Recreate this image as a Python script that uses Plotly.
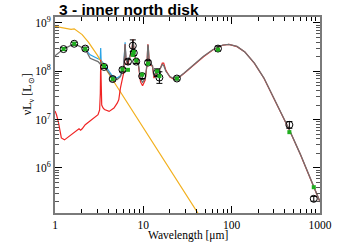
import numpy as np
import plotly.graph_objects as go

# ---- model curves (wavelength in micron, log10 of nuLnu in Lsun) ----
gray_wl = [1.0, 1.25, 1.65, 2.2, 2.5, 3.07, 3.25, 3.3, 3.35, 3.6,
           3.95, 4.5, 5.06, 5.5, 5.98, 6.1, 6.22, 6.35, 6.65, 7.0,
           7.4, 7.65, 7.9, 8.3, 8.6, 8.8, 9.3, 9.8, 10.5, 11.0,
           11.25, 11.35, 11.6, 12.1, 12.7, 13.2, 14.3, 15.5, 16.4, 17.0,
           18, 20, 22.6, 24.5, 29, 37, 48, 61, 79, 93,
           115, 141, 181, 232, 286, 350, 450, 600, 850, 1000]
gray_log10L = [8.32, 8.46, 8.57, 8.46, 8.27, 8.20, 8.15, 8.20, 8.13, 8.10,
               8.00, 7.85, 7.83, 7.89, 8.07, 8.25, 8.56, 8.25, 8.18, 8.30,
               8.45, 8.64, 8.40, 8.20, 8.28, 8.15, 7.84, 7.77, 7.85, 8.15,
               8.55, 8.52, 8.25, 8.15, 8.12, 7.90, 8.02, 8.05, 8.14, 8.12,
               8.00, 7.89, 7.84, 7.86, 7.965, 8.137, 8.31, 8.447, 8.544, 8.558,
               8.515, 8.40, 8.17, 7.86, 7.53, 7.20, 6.79, 6.28, 5.62, 5.30]

red_wl = [1.0, 1.04, 1.09, 1.18, 1.28, 1.45, 1.72, 1.87, 1.95, 2.03,
          2.2, 2.6, 3.07, 3.2, 3.26, 3.29, 3.32, 3.38, 3.5, 3.63,
          4.1, 4.65, 5.06, 5.27, 5.5, 5.74, 5.98, 6.1, 6.22, 6.35,
          6.65, 7.0, 7.4, 7.65, 7.9, 8.3, 8.6, 8.8, 9.3, 9.8,
          10.5, 11.0, 11.25, 11.35, 11.6, 12.1, 12.7, 13.2, 14.3, 15.5,
          16.4, 17.0, 18, 20, 22.6, 24.5, 29, 37, 48, 61,
          79, 93, 115, 141, 181, 232, 286, 350, 450, 600,
          850, 1000]
red_log10L = [7.18, 7.10, 6.96, 6.62, 6.58, 6.65, 6.76, 6.81, 6.78, 6.81,
              6.895, 7.00, 7.10, 7.20, 7.55, 8.24, 7.60, 7.30, 7.24, 7.21,
              7.17, 7.24, 7.34, 7.41, 7.65, 7.83, 7.96, 8.22, 8.56, 8.24,
              8.14, 8.28, 8.44, 8.66, 8.38, 8.17, 8.27, 8.12, 7.78, 7.70,
              7.82, 8.13, 8.56, 8.52, 8.24, 8.13, 8.10, 7.86, 8.00, 8.05,
              8.17, 8.17, 8.02, 7.88, 7.83, 7.85, 7.96, 8.13, 8.30, 8.44,
              8.54, 8.555, 8.51, 8.40, 8.165, 7.855, 7.525, 7.195, 6.785, 6.275,
              5.615, 5.295]

blue_wl = [2.2, 2.5, 3.07, 3.25, 3.29, 3.33, 3.6,
           3.95, 4.5, 5.06, 5.5, 5.98, 6.1, 6.22, 6.35, 6.65, 7.0]
blue_log10L = [8.46, 8.34, 8.26, 8.24, 8.48, 8.22, 8.15,
               8.05, 7.89, 7.86, 7.91, 8.08, 8.27, 8.60, 8.26, 8.18, 8.30]

orange_wl = [1.0, 1.28, 1.52, 1.65, 2.03, 2.4, 3.0, 3.6, 22.6, 50]
orange_log10L = [8.93, 8.90, 8.87, 8.88, 8.76, 8.60, 8.34, 8.10, 5.82, 4.83]

# ---- photometry ----
obs_wl = [1.25, 1.65, 2.2, 3.6, 4.5, 5.8, 6.7, 7.6, 7.8, 8.3, 9.7, 11.3, 14.3, 15.2, 24, 70, 450, 850]
obs_log10L = [8.46, 8.57, 8.47, 8.09, 7.84, 8.03, 8.20, 8.53, 8.38, 8.20, 7.90, 8.18, 7.97, 7.87, 7.85, 8.47, 6.89, 5.36]
obs_err_dex = [0.03, 0.03, 0.03, 0.03, 0.04, 0.04, 0.05, 0.12, 0.05, 0.04, 0.05, 0.04, 0.08, 0.12, 0.03, 0.05, 0.07, 0.05]
model_phot_log10L = [8.46, 8.57, 8.46, 8.11, 7.84, 8.04, 8.03, 8.34, 8.40, 8.22, 7.93, 8.16, 8.00, 7.90, 7.85, 8.45, 6.74, 5.60]

x_tickvals = [1, 10, 100, 1000]
x_ticktext = ["1", "10", "100", "1000"]
y_tickvals = [1e6, 1e7, 1e8, 1e9]
y_ticktext = ["10<sup>6</sup>", "10<sup>7</sup>", "10<sup>8</sup>", "10<sup>9</sup>"]


def lin(a):
    return np.power(10.0, np.array(a, dtype=float))


obs_L = lin(obs_log10L)
err_dex = np.array(obs_err_dex)
err_plus = lin(np.array(obs_log10L) + err_dex) - obs_L
err_minus = obs_L - lin(np.array(obs_log10L) - err_dex)

fig = go.Figure()
fig.add_trace(go.Scatter(x=blue_wl, y=lin(blue_log10L), mode="lines",
                         line=dict(color="#2aa4e6", width=1.2), hoverinfo="skip"))
fig.add_trace(go.Scatter(x=orange_wl, y=lin(orange_log10L), mode="lines",
                         line=dict(color="#f2b01e", width=1.2), hoverinfo="skip"))
fig.add_trace(go.Scatter(x=red_wl, y=lin(red_log10L), mode="lines",
                         line=dict(color="#f02424", width=1.2), hoverinfo="skip"))
fig.add_trace(go.Scatter(x=gray_wl, y=lin(gray_log10L), mode="lines",
                         line=dict(color="#707070", width=1.3), hoverinfo="skip"))
fig.add_trace(go.Scatter(x=obs_wl, y=obs_L, mode="markers",
                         marker=dict(symbol="circle-open", size=7, color="black",
                                     line=dict(width=1, color="black")),
                         error_y=dict(type="data", symmetric=False, array=err_plus,
                                      arrayminus=err_minus, color="black",
                                      thickness=1, width=3)))
fig.add_trace(go.Scatter(x=obs_wl, y=lin(model_phot_log10L), mode="markers",
                         marker=dict(symbol="square", size=4, color="#1fae1f",
                                     line=dict(width=0))))

# minor tick positions (axis decoration)
x_minor = [m * 10 ** e for e in range(0, 3) for m in range(2, 10)]
y_minor = [m * 10 ** e for e in range(5, 9) for m in range(2, 10)]

axis_font = dict(family="Liberation Serif", size=11.5, color="black")

fig.update_layout(
    width=343, height=245,
    margin=dict(l=55, r=11, t=17, b=32),
    paper_bgcolor="white", plot_bgcolor="white",
    showlegend=False,
    xaxis=dict(type="log", range=[0, 3], showgrid=False, zeroline=False,
               showline=True, linecolor="#7a7a7a", linewidth=2, mirror="allticks",
               ticks="inside", ticklen=7, tickcolor="black", tickwidth=1,
               tickvals=x_tickvals, ticktext=x_ticktext, tickfont=axis_font,
               minor=dict(ticks="inside", ticklen=4, tickcolor="black",
                          tickvals=x_minor, showgrid=False)),
    yaxis=dict(type="log", range=[5.066, 9.124], showgrid=False, zeroline=False,
               showline=True, linecolor="#7a7a7a", linewidth=2, mirror="allticks",
               ticks="inside", ticklen=7, tickcolor="black", tickwidth=1,
               tickvals=y_tickvals, ticktext=y_ticktext, tickfont=axis_font,
               minor=dict(ticks="inside", ticklen=4, tickcolor="#555555",
                          tickvals=y_minor, showgrid=False)),
    annotations=[
        dict(text="<b>3 - inner north disk</b>", xref="paper", yref="paper",
             x=(57 - 55) / 277, y=(213 - 9.5) / 196, xanchor="left", yanchor="middle",
             showarrow=False,
             font=dict(family="Liberation Sans", size=15.5, color="black")),
        dict(text="Wavelength [μm]", xref="paper", yref="paper",
             x=0.5, y=(213 - 235) / 196, xanchor="center", yanchor="middle",
             showarrow=False, font=axis_font),
        dict(text="νL<sub>ν</sub> [L<sub>⊙</sub>]", textangle=-90,
             xref="paper", yref="paper", x=(27 - 55) / 277, y=(213 - 94) / 196,
             xanchor="center", yanchor="middle", showarrow=False,
             font=dict(family="Liberation Serif", size=12, color="black")),
    ],
)

fig.write_html("out.html", config={"displayModeBar": False},
               post_script="document.body.style.margin='0px';")
